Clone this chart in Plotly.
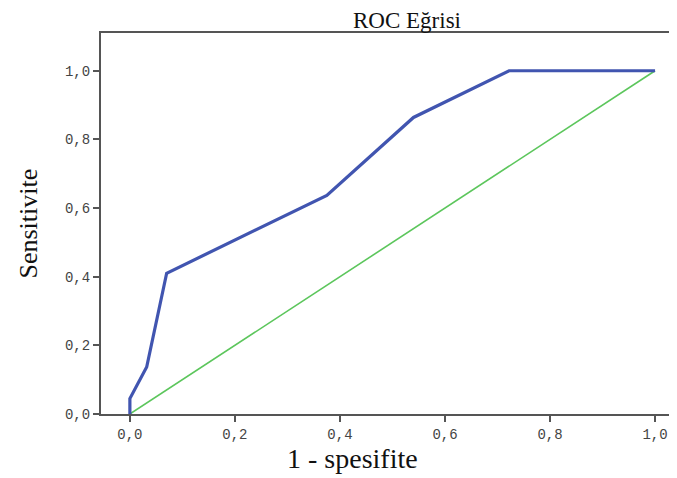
import plotly.graph_objects as go

fpr = [0.0, 0.0, 0.032, 0.07, 0.375, 0.54, 0.722, 1.0]
tpr = [0.0, 0.045, 0.137, 0.41, 0.637, 0.864, 1.0, 1.0]
ref_x = [0.0, 1.0]
ref_y = [0.0, 1.0]
tick_vals = [0.0, 0.2, 0.4, 0.6, 0.8, 1.0]
tick_text = ["0,0", "0,2", "0,4", "0,6", "0,8", "1,0"]

fig = go.Figure()
fig.add_trace(go.Scatter(x=ref_x, y=ref_y, mode="lines",
                         line=dict(color="#5cc65c", width=1.6), hoverinfo="skip"))
fig.add_trace(go.Scatter(x=fpr, y=tpr, mode="lines",
                         line=dict(color="#4155b0", width=3.2), hoverinfo="skip"))

tick_font = dict(family="Liberation Mono, DejaVu Sans Mono, monospace", size=14, color="#444444")
serif = "Liberation Serif, Times New Roman, serif"
fig.update_layout(
    width=677, height=478,
    margin=dict(l=93, r=0, t=25, b=72),
    plot_bgcolor="white", paper_bgcolor="white",
    showlegend=False,
    xaxis=dict(range=[-0.055, 1.057], tickvals=tick_vals, ticktext=tick_text,
               showgrid=False, zeroline=False, showline=True, linecolor="#555555",
               linewidth=2, mirror=True, ticks="outside", ticklen=6, tickwidth=2,
               tickcolor="#555555", tickfont=tick_font),
    yaxis=dict(range=[0, 1.11], tickvals=tick_vals, ticktext=tick_text,
               showgrid=False, zeroline=False, showline=True, linecolor="#555555",
               linewidth=2, ticks="outside", ticklen=6, tickwidth=2,
               tickcolor="#555555", tickfont=tick_font),
    annotations=[
        dict(text="ROC Eğrisi", xref="paper", yref="paper", x=(407 - 101) / 584, y=1.0315,
             xanchor="center", yanchor="middle", showarrow=False,
             font=dict(family=serif, size=23, color="#111111")),
        dict(text="1 - spesifite", xref="paper", yref="paper", x=(352 - 101) / 584, y=0,
             xanchor="center", yanchor="top", yshift=-27, showarrow=False,
             font=dict(family=serif, size=28, color="#111111")),
        dict(text="Sensitivite", xref="paper", yref="paper", x=0, y=0.5,
             xanchor="center", yanchor="middle", xshift=-73, textangle=-90, showarrow=False,
             font=dict(family=serif, size=26, color="#111111")),
    ],
)
fig.write_html("out.html")
